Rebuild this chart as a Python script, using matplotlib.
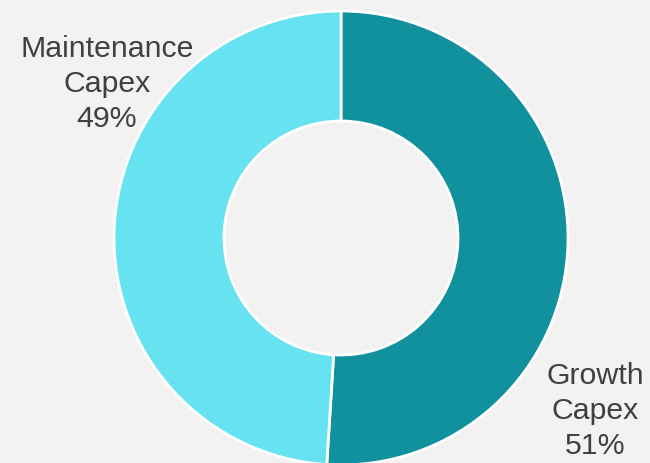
import matplotlib
matplotlib.use("Agg")
import matplotlib.pyplot as plt

categories = ["Growth\nCapex", "Maintenance\nCapex"]
values = [51, 49]
colors = ["#11909E", "#67E2F0"]

W, H = 650, 463
fig = plt.figure(figsize=(W / 100, H / 100), dpi=100)
fig.patch.set_facecolor("#F2F2F2")
ax = fig.add_axes([0, 0, 1, 1])
ax.set_facecolor("#F2F2F2")

R = 227.0
cx, cy = 341.0, H - 238.0
ax.pie(values, colors=colors, startangle=90, counterclock=False, radius=1.0,
       wedgeprops=dict(width=1 - 117 / R, edgecolor="white", linewidth=2))
ax.set_aspect("auto")
ax.set_xlim(-cx / R, (W - cx) / R)
ax.set_ylim(-cy / R, (H - cy) / R)
ax.axis("off")

label_pos = [((595 - cx) / R, (H - 411 - cy) / R), ((107 - cx) / R, (H - 84 - cy) / R)]
for cat, v, (x, y) in zip(categories, values, label_pos):
    ax.text(x, y, f"{cat}\n{v}%", ha="center", va="center", fontsize=21.8,
            color="#404040", family="Liberation Sans", linespacing=1.32)

fig.savefig("out.png", dpi=100, facecolor=fig.get_facecolor())
